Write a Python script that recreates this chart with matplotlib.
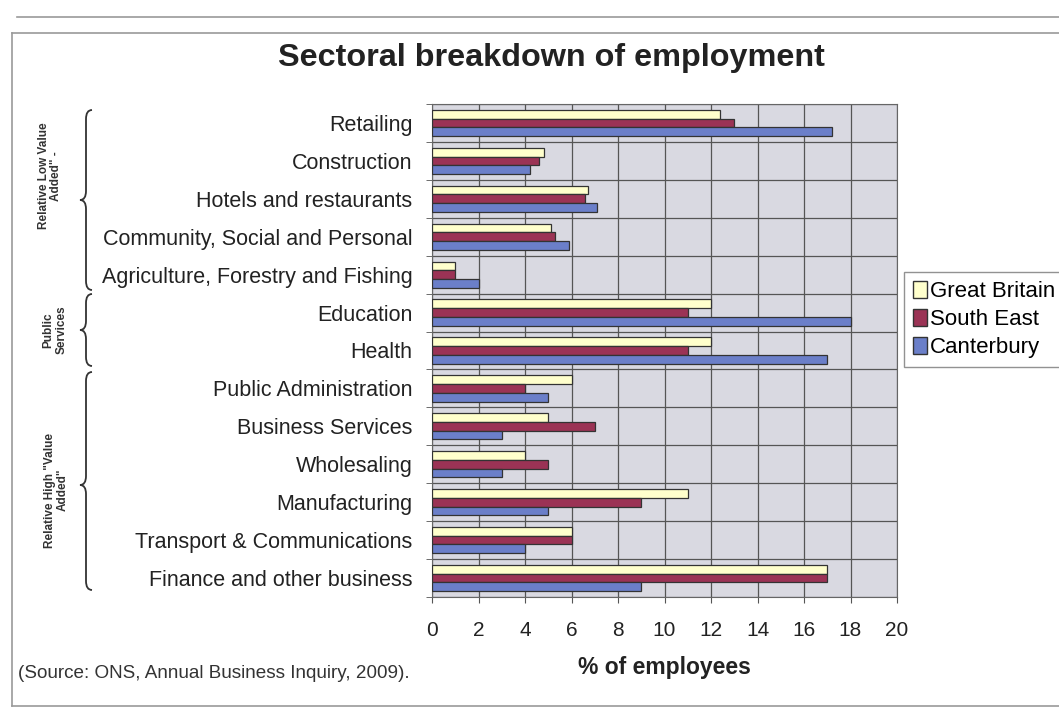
import matplotlib.pyplot as plt
import numpy as np
from matplotlib.path import Path
from matplotlib.patches import PathPatch, Patch
from matplotlib.lines import Line2D

sectors = ["Retailing", "Construction", "Hotels and restaurants",
           "Community, Social and Personal", "Agriculture, Forestry and Fishing",
           "Education", "Health", "Public Administration", "Business Services",
           "Wholesaling", "Manufacturing", "Transport & Communications",
           "Finance and other business"]
great_britain = [12.4, 4.8, 6.7, 5.1, 1.0, 12.0, 12.0, 6.0, 5.0, 4.0, 11.0, 6.0, 17.0]
south_east = [13.0, 4.6, 6.6, 5.3, 1.0, 11.0, 11.0, 4.0, 7.0, 5.0, 9.0, 6.0, 17.0]
canterbury = [17.2, 4.2, 7.1, 5.9, 2.0, 18.0, 17.0, 5.0, 3.0, 3.0, 5.0, 4.0, 9.0]
series_names = ["Great Britain", "South East", "Canterbury"]
colors = ["#ffffcc", "#9b3355", "#6b7fc9"]

groups = [("Relative Low Value\nAdded\" -", 110, 200, 290, 50, 176),
          ("Public\nServices", 294, 330, 366, 55, 330),
          ("Relative High \"Value\nAdded\"", 372, 485, 590, 56, 490)]

W, H = 1059, 715
plt.rcParams['font.family'] = ['Liberation Sans', 'DejaVu Sans']
fig = plt.figure(figsize=(W / 100, H / 100), dpi=100)
fig.patch.set_facecolor('white')


def fx(x):
    return x / W


def fy(y):
    return 1 - y / H


ax = fig.add_axes([fx(432), fy(597), fx(897) - fx(432), fy(104) - fy(597)])
ax.set_facecolor('#d9d9e1')

y = np.arange(len(sectors))
h = 0.23
for k, (vals, c, name) in enumerate(zip([great_britain, south_east, canterbury], colors, series_names)):
    ax.barh(y + (k - 1) * h, vals, height=h, color=c, edgecolor='#333333',
            linewidth=0.9, label=name, zorder=3)

ax.set_xlim(0, 20)
ax.set_ylim(len(sectors) - 0.5, -0.5)
ax.set_xticks(np.arange(0, 21, 2))
ax.set_yticks(y)
ax.set_yticklabels(sectors, fontsize=15.5, color='#222222')
ax.set_yticks(np.arange(-0.5, len(sectors), 1), minor=True)
ax.tick_params(axis='y', which='major', length=0, pad=14)
ax.tick_params(axis='y', which='minor', length=4, color='#555555')
ax.tick_params(axis='x', length=4, color='#555555', pad=13, labelsize=15, labelcolor='#222222')
ax.grid(axis='x', color='#555555', linewidth=0.9, zorder=0)
ax.grid(axis='y', which='minor', color='#555555', linewidth=0.9, zorder=0)
for s in ax.spines.values():
    s.set_color('#666666')
ax.set_xlabel("% of employees", fontsize=16.5, fontweight='bold', color='#222222', labelpad=12)

fig.text(fx(551), fy(58), "Sectoral breakdown of employment", fontsize=23.3,
         fontweight='bold', ha='center', va='center', color='#222222')
fig.text(fx(18), fy(673), "(Source: ONS, Annual Business Inquiry, 2009).", fontsize=13.6,
         ha='left', va='center', color='#333333')

# curly braces for the sector groups
def brace(x, ytop, ytip, ybot, w=6, r=9):
    pts = [(x + w, ytop), (x, ytop), (x, ytop + r),
           (x, ytip - r), (x, ytip), (x - w, ytip),
           (x, ytip), (x, ytip + r),
           (x, ybot - r), (x, ybot), (x + w, ybot)]
    codes = [Path.MOVETO, Path.CURVE3, Path.CURVE3,
             Path.LINETO, Path.CURVE3, Path.CURVE3,
             Path.CURVE3, Path.CURVE3,
             Path.LINETO, Path.CURVE3, Path.CURVE3]
    pts = [(fx(a), fy(b)) for a, b in pts]
    fig.patches.append(PathPatch(Path(pts, codes), transform=fig.transFigure,
                                 fill=False, edgecolor='#333333', linewidth=1.3))


for label, ytop, ytip, ybot, tx, ty in groups:
    brace(86, ytop, ytip, ybot)
    fig.text(fx(tx), fy(ty), label, rotation=90, ha='center', va='center',
             fontsize=8.5, fontweight='bold', color='#333333', linespacing=1.1,
             multialignment='center')

# page frame lines
frame = dict(color='#9a9a9a', linewidth=1.2, transform=fig.transFigure)
fig.lines.append(Line2D([fx(17), 1], [fy(17), fy(17)], **frame))
fig.lines.append(Line2D([fx(12), 1], [fy(33), fy(33)], **frame))
fig.lines.append(Line2D([fx(12), fx(12)], [fy(33), fy(706)], **frame))
fig.lines.append(Line2D([fx(12), 1], [fy(706), fy(706)], **frame))

handles = [Patch(facecolor=c, edgecolor='#333333', label=n) for c, n in zip(colors, series_names)]
fig.legend(handles=handles, loc='upper left', bbox_to_anchor=(fx(904), fy(272)),
           frameon=True, fancybox=False, edgecolor='#777777', fontsize=16,
           handlelength=0.65, handleheight=0.8, handletextpad=0.1,
           borderpad=0.4, labelspacing=0.3, borderaxespad=0)

fig.savefig("out.png", dpi=100)
